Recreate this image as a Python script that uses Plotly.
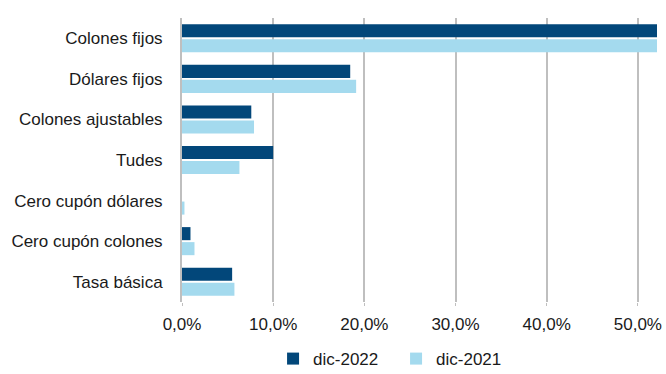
import plotly.graph_objects as go

categories = ["Colones fijos", "Dólares fijos", "Colones ajustables", "Tudes",
              "Cero cupón dólares", "Cero cupón colones", "Tasa básica"]
dic_2022 = [0.535, 0.1845, 0.076, 0.100, 0.0, 0.0093, 0.055]
dic_2021 = [0.540, 0.191, 0.079, 0.063, 0.0027, 0.0137, 0.0575]
x_ticks = [0.0, 0.1, 0.2, 0.3, 0.4, 0.5]

DARK = "#02477A"
LIGHT = "#A4DAEE"
GRID = "#BFBFBF"
FONT = "Liberation Sans, Arial, sans-serif"

fig = go.Figure()
fig.add_trace(go.Bar(y=categories, x=dic_2022, orientation="h", name="dic-2022",
                     marker=dict(color=DARK, line=dict(width=0))))
fig.add_trace(go.Bar(y=categories, x=dic_2021, orientation="h", name="dic-2021",
                     marker=dict(color=LIGHT, line=dict(width=0))))

fig.update_layout(
    width=666, height=374,
    margin=dict(l=182, r=9, t=18, b=72, autoexpand=False),
    paper_bgcolor="white", plot_bgcolor="white",
    barmode="group", bargap=0.26, bargroupgap=0.13,
    separators=",.",
    font=dict(family=FONT, size=17, color="#1a1a1a"),
    showlegend=True,
    legend=dict(orientation="h", xref="container", x=0.41, xanchor="left",
                yref="container", y=0.04, yanchor="middle",
                font=dict(size=17), itemwidth=30, traceorder="normal",
                entrywidthmode="pixels", entrywidth=78),
)
fig.update_xaxes(range=[0, 0.521], tickvals=x_ticks, tickformat=".1%",
                 showgrid=True, gridcolor=GRID, gridwidth=2,
                 ticks="outside", ticklen=3, tickcolor=GRID, tickwidth=1,
                 ticklabelstandoff=4,
                 zeroline=False, showline=False, fixedrange=True,
                 tickfont=dict(size=17))
fig.update_yaxes(autorange="reversed", showline=True, linecolor=GRID, linewidth=2,
                 ticks="", ticklabelstandoff=14, showgrid=False, fixedrange=True,
                 tickfont=dict(size=17))

fig.write_html("out.html")
